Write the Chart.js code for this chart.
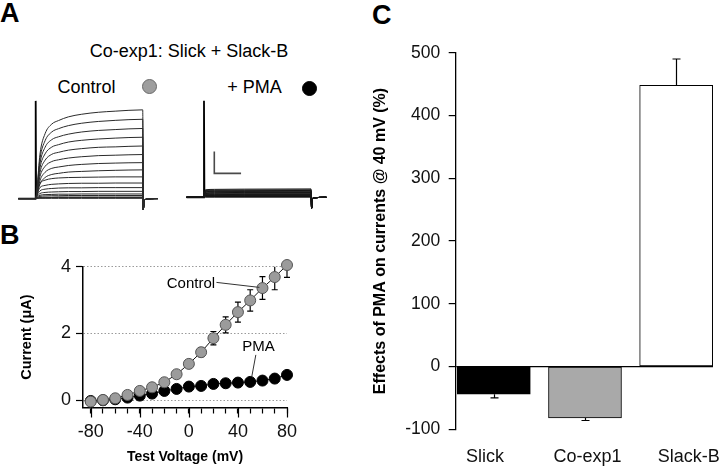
<!DOCTYPE html>
<html><head><meta charset="utf-8">
<script src="https://cdn.jsdelivr.net/npm/chart.js@4.4.1/dist/chart.umd.min.js"></script>
<style>
html,body{margin:0;padding:0;background:#fff}
body{width:720px;height:467px;position:relative;overflow:hidden;font-family:"Liberation Sans",Arial,sans-serif}
canvas{position:absolute}
.t{position:absolute;white-space:nowrap;line-height:1;color:#000}
.dot{position:absolute;border-radius:50%;box-sizing:border-box}
</style></head><body>
<script>
// ---------------- DATA ----------------
// Panel A: current traces (time in ms, current in µA)
const traceTimes = [-65, 0, 5, 16, 35, 60, 85, 122, 172, 234, 297, 400];
const tailTimes = [402, 406, 457];
const tailValues = [-0.5, -0.05, 0];
const controlTraces = [
  [0, 0, 0.49, 2.03, 2.96, 3.40, 3.56, 3.73, 3.85, 3.94, 3.99, 4.05],
  [0, 0, 0.43, 1.81, 2.64, 3.04, 3.19, 3.33, 3.44, 3.52, 3.57, 3.62],
  [0, 0, 0.38, 1.60, 2.34, 2.69, 2.82, 2.94, 3.04, 3.11, 3.15, 3.20],
  [0, 0, 0.34, 1.40, 2.04, 2.35, 2.46, 2.58, 2.66, 2.72, 2.76, 2.80],
  [0, 0, 0.29, 1.20, 1.75, 2.02, 2.11, 2.21, 2.28, 2.34, 2.36, 2.40],
  [0, 0, 0.24, 1.01, 1.47, 1.69, 1.77, 1.85, 1.91, 1.96, 1.98, 2.01],
  [0, 0, 0.20, 0.82, 1.20, 1.38, 1.44, 1.51, 1.56, 1.60, 1.62, 1.64],
  [0, 0, 0.16, 0.66, 0.96, 1.10, 1.15, 1.21, 1.24, 1.27, 1.29, 1.31],
  [0, 0, 0.30, 0.69, 0.84, 0.91, 0.94, 0.96, 0.97, 0.98, 0.99, 0.99],
  [0, 0, 0.21, 0.50, 0.60, 0.65, 0.67, 0.69, 0.70, 0.70, 0.71, 0.71],
  [0, 0, 0.15, 0.35, 0.43, 0.46, 0.48, 0.49, 0.49, 0.50, 0.50, 0.50],
  [0, 0, 0.10, 0.23, 0.28, 0.30, 0.31, 0.32, 0.32, 0.33, 0.33, 0.33],
  [0, 0, 0.06, 0.15, 0.18, 0.19, 0.20, 0.20, 0.21, 0.21, 0.21, 0.21],
  [0, 0, 0.04, 0.10, 0.12, 0.13, 0.13, 0.14, 0.14, 0.14, 0.14, 0.14],
  [0, 0, 0.02, 0.05, 0.06, 0.06, 0.07, 0.07, 0.07, 0.07, 0.07, 0.07],
  [0, 0, 0.02, 0.04, 0.04, 0.05, 0.05, 0.05, 0.05, 0.05, 0.05, 0.05],
  [0, 0, 0.01, 0.01, 0.01, 0.01, 0.01, 0.01, 0.01, 0.01, 0.01, 0.01]
];
const pmaTimes = [-65, 0, 5, 40, 150, 400];
const pmaTraces = [
  [0, 0, 0.34, 0.36, 0.37, 0.38],
  [0, 0, 0.31, 0.32, 0.33, 0.34],
  [0, 0, 0.28, 0.29, 0.30, 0.31],
  [0, 0, 0.25, 0.27, 0.27, 0.28],
  [0, 0, 0.23, 0.24, 0.25, 0.25],
  [0, 0, 0.20, 0.21, 0.22, 0.22],
  [0, 0, 0.17, 0.18, 0.19, 0.19],
  [0, 0, 0.14, 0.15, 0.16, 0.16],
  [0, 0, 0.12, 0.12, 0.13, 0.13],
  [0, 0, 0.10, 0.10, 0.11, 0.11],
  [0, 0, 0.08, 0.09, 0.09, 0.09],
  [0, 0, 0.06, 0.07, 0.07, 0.07],
  [0, 0, 0.05, 0.05, 0.05, 0.05],
  [0, 0, 0.03, 0.03, 0.03, 0.03],
  [0, 0, 0.02, 0.02, 0.02, 0.02],
  [0, 0, 0.01, 0.01, 0.01, 0.01]
];
const transientTimes = [-65, 0, 0, 1.5];
const controlTransient = [0, 0, 4.46, 0.2];
const pmaTransient = [0, 0, 4.41, 0.2];
const scaleBarTimes = [38.5, 38.5, 138.5];   // 100 ms
const scaleBarValues = [2.09, 1.09, 1.09];   // 1 µA

// Panel B: I-V relation
const voltages = [-80, -70, -60, -50, -40, -30, -20, -10, 0, 10, 20, 30, 40, 50, 60, 70, 80];
const controlCurrent = [-0.04, 0.01, 0.06, 0.16, 0.28, 0.39, 0.54, 0.78, 1.09, 1.44, 1.86, 2.26, 2.64, 2.99, 3.36, 3.69, 4.05];
const controlSEM = [0.02, 0.02, 0.02, 0.03, 0.04, 0.05, 0.06, 0.08, 0.10, 0.13, 0.20, 0.24, 0.30, 0.32, 0.34, 0.38, 0.37];
const pmaCurrent = [-0.02, 0.00, 0.03, 0.08, 0.14, 0.20, 0.28, 0.34, 0.41, 0.43, 0.49, 0.51, 0.53, 0.55, 0.59, 0.65, 0.76];
const pmaSEM = [0.01, 0.01, 0.01, 0.01, 0.02, 0.02, 0.02, 0.03, 0.03, 0.03, 0.04, 0.04, 0.04, 0.05, 0.06, 0.08, 0.10];
const voltageTickLabels = [-80, -40, 0, 40, 80];
const currentTickLabels = [0, 2, 4];

// Panel C: effects of PMA at 40 mV
const groups = ['Slick', 'Co-exp1', 'Slack-B'];
const pmaEffect = [-44, -82, 448];
const pmaEffectSEM = [6, 4, 42];
const effectTickLabels = [-100, 0, 100, 200, 300, 400, 500];

// ---------------- SETUP ----------------
Chart.defaults.font.family = '"Liberation Sans", Arial, sans-serif';
Chart.defaults.color = '#000';
Chart.defaults.animation = false;
Chart.defaults.responsive = false;
Chart.defaults.devicePixelRatio = 1;
Chart.defaults.plugins.legend.display = false;
Chart.defaults.plugins.tooltip.enabled = false;

function mkCanvas(left, top, w, h) {
  const c = document.createElement('canvas');
  c.width = w; c.height = h;
  c.style.left = left + 'px'; c.style.top = top + 'px';
  c.style.width = w + 'px'; c.style.height = h + 'px';
  document.body.appendChild(c);
  return c;
}
function txt(s, x, baseline, fs, bold, center) {
  const d = document.createElement('div');
  d.className = 't'; d.textContent = s;
  d.style.fontSize = fs + 'px';
  d.style.top = (baseline - 0.8465 * fs) + 'px';
  d.style.left = x + 'px';
  if (bold) d.style.fontWeight = 'bold';
  if (center) d.style.transform = 'translateX(-50%)';
  document.body.appendChild(d);
}
function dot(cx, cy, r, fill, edge) {
  const d = document.createElement('div');
  d.className = 'dot';
  d.style.left = (cx - r) + 'px'; d.style.top = (cy - r) + 'px';
  d.style.width = (2 * r) + 'px'; d.style.height = (2 * r) + 'px';
  d.style.background = fill; d.style.border = '1px solid ' + edge;
  document.body.appendChild(d);
}
const pts = (xs, ys) => xs.map((x, i) => ({x: x, y: ys[i]}));

// ---------------- PANEL A ----------------
txt('A', 0, 23.3, 27, true);
txt('Co-exp1: Slick + Slack-B', 189, 57, 18, false, true);
txt('Control', 57.4, 93, 18);
dot(149.3, 86.7, 7.8, '#9e9e9e', '#6a6a6a');
txt('+ PMA', 227.3, 93.3, 18);
dot(309, 88, 7.5, '#000', '#000');

function traceChart(canvas, times, traces, transient, pad, yMin, yMax, color, extra) {
  const ds = traces.map(v => ({
    data: pts(times, v).concat(pts(tailTimes, tailValues)),
    borderColor: color, borderWidth: 1, pointRadius: 0, showLine: true,
    cubicInterpolationMode: 'monotone', clip: false
  }));
  ds.push({data: pts(transientTimes, transient), borderColor: '#000', borderWidth: 1.8,
    pointRadius: 0, showLine: true, tension: 0, clip: false});
  if (extra) ds.push(extra);
  return new Chart(canvas, {
    type: 'scatter',
    data: {datasets: ds},
    options: {
      layout: {padding: pad},
      scales: {
        x: {type: 'linear', display: false, min: -65, max: 457},
        y: {type: 'linear', display: false, min: yMin, max: yMax}
      }
    }
  });
}
traceChart(mkCanvas(0, 90, 175, 130), traceTimes, controlTraces, controlTransient,
  {left: 18.3, right: 17, top: 10, bottom: 5}, -0.75, 4.50, '#2a2a2a');
traceChart(mkCanvas(180, 90, 160, 130), pmaTimes, pmaTraces, pmaTransient,
  {left: 6.6, right: 13.7, top: 10, bottom: 5}, -0.81, 4.44, '#151515',
  {data: pts(scaleBarTimes, scaleBarValues), borderColor: '#4a4a4a', borderWidth: 1.6,
   pointRadius: 0, showLine: true, tension: 0, clip: false});

// ---------------- PANEL B ----------------
txt('B', 0, 245, 27, true);
const errB = {
  id: 'errB',
  beforeDatasetsDraw(chart) {
    const {ctx, chartArea: a, scales: {x, y}} = chart;
    ctx.save();
    ctx.beginPath(); ctx.rect(a.left - 10, a.top, a.right - a.left + 20, a.bottom - a.top + 20); ctx.clip();
    ctx.strokeStyle = '#000'; ctx.lineWidth = 1.2;
    [[controlCurrent, controlSEM], [pmaCurrent, pmaSEM]].forEach(([m, e]) => {
      voltages.forEach((v, i) => {
        const px = x.getPixelForValue(v);
        const y1 = y.getPixelForValue(m[i] + e[i]), y2 = y.getPixelForValue(m[i] - e[i]);
        ctx.beginPath();
        ctx.moveTo(px, y1); ctx.lineTo(px, y2);
        ctx.moveTo(px - 3, y1); ctx.lineTo(px + 3, y1);
        ctx.moveTo(px - 3, y2); ctx.lineTo(px + 3, y2);
        ctx.stroke();
      });
    });
    ctx.restore();
  },
  afterDraw(chart) {
    const {ctx, chartArea: a, scales: {x}} = chart;
    ctx.save(); ctx.strokeStyle = '#000'; ctx.lineWidth = 1.2;
    voltageTickLabels.forEach(v => {
      const px = Math.round(x.getPixelForValue(v)) + 0.5;
      ctx.beginPath(); ctx.moveTo(px, a.bottom); ctx.lineTo(px, a.bottom + 10); ctx.stroke();
    });
    ctx.restore();
  }
};
const annB = {
  id: 'annB',
  afterDatasetsDraw(chart) {
    const {ctx, scales: {x, y}} = chart;
    const items = chart.options.plugins.annB.items;
    ctx.save();
    ctx.font = '15px "Liberation Sans", Arial, sans-serif';
    ctx.fillStyle = '#000'; ctx.textAlign = 'center'; ctx.textBaseline = 'alphabetic';
    ctx.strokeStyle = '#333'; ctx.lineWidth = 1;
    items.forEach(it => {
      ctx.fillText(it.text, x.getPixelForValue(it.at[0]), y.getPixelForValue(it.at[1]));
      ctx.beginPath();
      ctx.moveTo(x.getPixelForValue(it.from[0]), y.getPixelForValue(it.from[1]));
      ctx.lineTo(x.getPixelForValue(it.to[0]), y.getPixelForValue(it.to[1]));
      ctx.stroke();
    });
    ctx.restore();
  }
};
new Chart(mkCanvas(0, 220, 340, 247), {
  type: 'scatter',
  data: {datasets: [
    {data: pts(voltages, controlCurrent), showLine: true, borderColor: '#111', borderWidth: 1,
     pointRadius: 5.5, pointBackgroundColor: '#9b9b9b', pointBorderColor: '#555', pointBorderWidth: 1, clip: false},
    {data: pts(voltages, pmaCurrent), showLine: true, borderColor: '#111', borderWidth: 1,
     pointRadius: 5.5, pointBackgroundColor: '#000', pointBorderColor: '#000', pointBorderWidth: 1, clip: false}
  ]},
  options: {
    layout: {padding: {top: 46.7, right: 53, bottom: 0, left: 0}},
    plugins: {annB: {items: [
      {text: 'Control', at: [1.7, 3.37], from: [22.5, 3.53], to: [57.5, 3.38]},
      {text: 'PMA', at: [56.7, 1.48], from: [54.6, 1.36], to: [51.3, 0.71]}
    ]}},
    scales: {
      x: {
        type: 'linear', min: -86.3, max: 80,
        afterBuildTicks: s => { s.ticks = voltages.map(v => ({value: v})); },
        afterFit: s => { s.height = 59.5; s.paddingLeft = 0; s.paddingRight = 0; },
        ticks: {autoSkip: false, maxRotation: 0, minRotation: 0, padding: 7.8,
          font: {size: 18}, color: '#111',
          callback: v => voltageTickLabels.includes(v) ? String(v) : ''},
        grid: {drawOnChartArea: false, tickLength: 6, tickColor: '#000', tickWidth: 1.2},
        border: {color: '#000', width: 1.5},
        title: {display: true, text: 'Test Voltage (mV)', font: {size: 14, weight: 'bold'}, padding: {top: 0, bottom: 1}}
      },
      y: {
        type: 'linear', min: -0.216, max: 4,
        afterBuildTicks: s => { s.ticks = currentTickLabels.map(v => ({value: v})); },
        afterFit: s => { s.width = 83; s.paddingTop = 0; s.paddingBottom = 0; },
        ticks: {padding: 5, font: {size: 18}, color: '#111', callback: v => String(v)},
        grid: {color: '#9a9a9a', lineWidth: 1, tickLength: 7, tickColor: '#000', tickWidth: 1.2, tickBorderDash: []},
        border: {color: '#000', width: 1.5, dash: [1.5, 2]},
        title: {display: true, text: 'Current (μA)', font: {size: 14.5, weight: 'bold'}, padding: {top: 18.4, bottom: 0}}
      }
    }
  },
  plugins: [errB, annB]
});

// ---------------- PANEL C ----------------
txt('C', 372, 25, 27, true);
const errC = {
  id: 'errC',
  afterDatasetsDraw(chart) {
    const {ctx, scales: {x, y}} = chart;
    ctx.save(); ctx.strokeStyle = '#000'; ctx.lineWidth = 1.2;
    pmaEffect.forEach((v, i) => {
      const px = Math.round(x.getPixelForValue(i)) + 0.5;
      const y0 = y.getPixelForValue(v), y1 = y.getPixelForValue(v + Math.sign(v) * pmaEffectSEM[i]);
      ctx.beginPath();
      ctx.moveTo(px, y0); ctx.lineTo(px, y1);
      ctx.moveTo(px - 4, y1); ctx.lineTo(px + 4, y1);
      ctx.stroke();
    });
    ctx.restore();
  }
};
new Chart(mkCanvas(360, 0, 360, 467), {
  type: 'bar',
  data: {datasets: [{
    data: pts([0, 1, 2], pmaEffect),
    backgroundColor: ['#000', '#a9a9a9', '#fff'],
    borderColor: '#000', borderWidth: 1, barThickness: 73, borderSkipped: false
  }]},
  options: {
    layout: {padding: {top: 52.7, right: 7, bottom: 0, left: 0}},
    scales: {
      x: {
        type: 'linear', min: -0.418, max: 2.404, offset: false,
        afterBuildTicks: s => { s.ticks = s.chart.options.scales.x.labelPos.map(v => ({value: v})); },
        labelPos: [-0.096, 1.027, 2.137],
        afterFit: s => { s.height = 37.7; s.paddingLeft = 0; s.paddingRight = 0; },
        ticks: {autoSkip: false, maxRotation: 0, minRotation: 0, padding: 17.2,
          font: {size: 18}, color: '#111', callback: (v, i) => groups[i]},
        grid: {display: false, drawTicks: false, offset: false},
        border: {display: false}
      },
      y: {
        type: 'linear', min: -100, max: 500,
        afterBuildTicks: s => { s.ticks = effectTickLabels.map(v => ({value: v})); },
        afterFit: s => { s.width = 95.7; s.paddingTop = 0; s.paddingBottom = 0; },
        ticks: {padding: 8.4, font: {size: 17.5}, color: '#111', callback: v => String(v)},
        grid: {color: c => (c.tick && c.tick.value === 0) ? '#000' : 'rgba(0,0,0,0)',
               lineWidth: 1.2, tickLength: 7, tickColor: '#000', tickWidth: 1.2},
        border: {color: '#000', width: 1.3},
        title: {display: true, text: 'Effects of PMA on currents @ 40 mV (%)',
                font: {size: 16, weight: 'bold'}, padding: {top: 11.4, bottom: 0}}
      }
    }
  },
  plugins: [errC]
});
</script>
</body></html>
